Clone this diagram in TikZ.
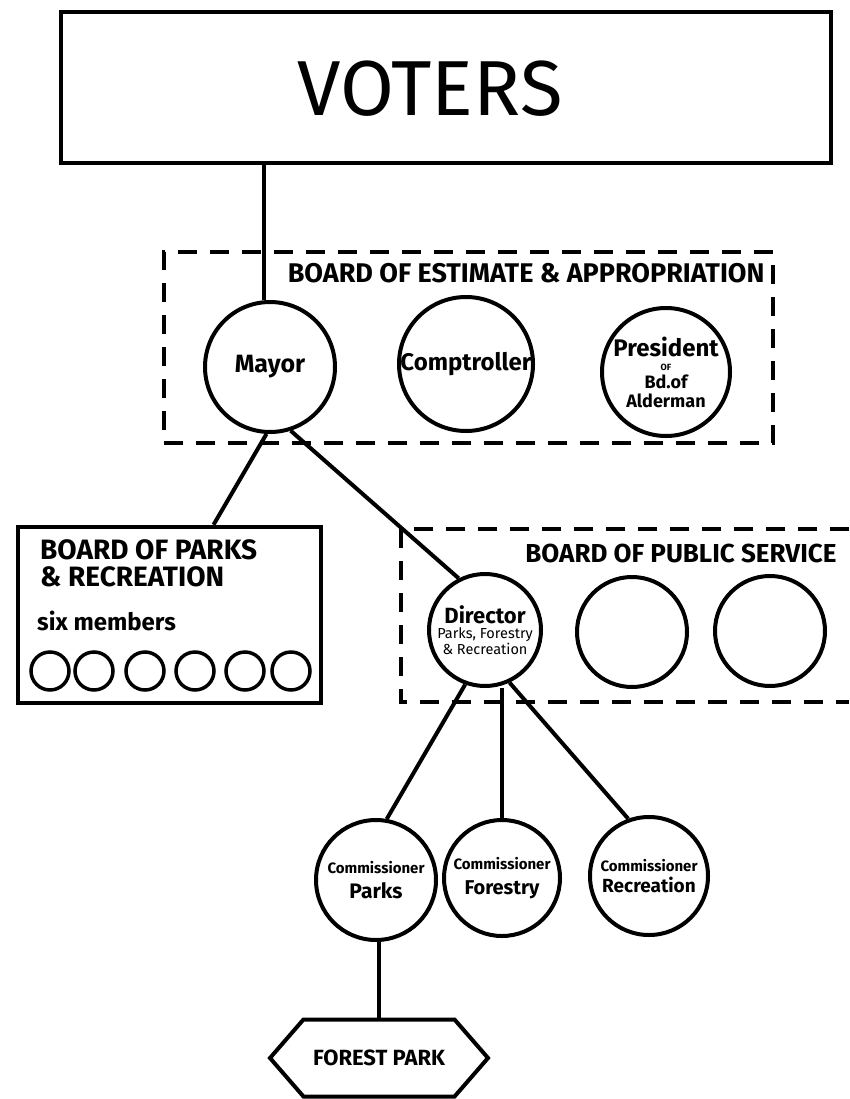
\documentclass[tikz,border=0pt]{standalone}
\usepackage{fontspec}
\setmainfont{Fira Sans}
\usetikzlibrary{shapes.symbols}
\tikzset{
  office/.style={draw,circle,line width=4pt,inner sep=0pt,align=center,font=\bfseries},
  member/.style={draw,circle,line width=3.5pt,minimum size=38pt,inner sep=0pt},
  boardline/.style={line width=4.5pt,dash pattern=on 19pt off 13pt},
  boardbox/.style={draw,line width=4.5pt,inner sep=0pt},
  link/.style={line width=4pt},
}
\begin{document}
\begin{tikzpicture}[x=1pt,y=-1pt]
\useasboundingbox[fill=white] (0,0) rectangle (849,1099);
\node[boardbox,minimum width=770pt,minimum height=151pt] (voters) at (446,87.5) {};
\node[font=\fontsize{78}{78}\selectfont] (voterstext) at (430,89) {VOTERS};
\node[draw,boardline,minimum width=609pt,minimum height=191pt] (bea) at (468.5,347.5) {};
\node[anchor=east,font=\bfseries\fontsize{27}{27}\selectfont] (bealabel) at (768,273) {BOARD OF ESTIMATE \& APPROPRIATION};
\node[office,minimum size=130pt,font=\bfseries\fontsize{25}{25}\selectfont] (mayor) at (270,367) {Mayor};
\node[office,minimum size=134pt,font=\bfseries\fontsize{24}{24}\selectfont] (comptroller) at (466,364) {Comptroller};
\node[office,minimum size=128pt,font=\bfseries\fontsize{18}{17}\selectfont] (president) at (666,372) {{\fontsize{24}{24}\selectfont President}\\[-3pt]
  {\fontsize{9}{9}\selectfont OF}\\[1pt]{Bd.of}\\[2pt]{Alderman}};
\draw[link] (mayor.95 |- voters.south) -- (mayor.95);
\node[boardbox,minimum width=303pt,minimum height=176pt] (bpr) at (169.5,615) {};
\node[anchor=north west,inner sep=0pt,align=left,font=\bfseries\fontsize{28}{27}\selectfont] (bprlabel) at (40,539) {BOARD OF PARKS\\\& RECREATION};
\node[anchor=base west,inner sep=0pt,font=\bfseries\fontsize{24}{24}\selectfont] (six) at (37,630) {six members};
\foreach \x [count=\i] in {50,94,145,195,245,291}
  \node[member] (m\i) at (\x,671) {};
\draw[boardline] (849,529) -- (401,529) -- (401,702) -- (849,702);
\node[anchor=east,font=\bfseries\fontsize{26}{26}\selectfont] (bpslabel) at (840,553) {BOARD OF PUBLIC SERVICE};
\node[office,minimum size=112pt,font=\bfseries\fontsize{14.5}{15.5}\selectfont] (director) at (485,630) {{\fontsize{22}{22}\selectfont Director}\\
  {\mdseries Parks, Forestry}\\{\mdseries \& Recreation}};
\node[office,minimum size=110pt] (bps2) at (632,632) {};
\node[office,minimum size=110pt] (bps3) at (770,631) {};
\draw[link] (mayor.267) -- (bpr.64);
\draw[link] (mayor.288) -- (director.117);
\node[office,minimum size=120pt,font=\bfseries\fontsize{15}{25}\selectfont] (cparks) at (376,880) {Commissioner\\{\fontsize{21}{21}\selectfont Parks}};
\node[office,minimum size=116pt,font=\bfseries\fontsize{15}{25}\selectfont] (cforestry) at (502,878) {Commissioner\\{\fontsize{20}{20}\selectfont Forestry}};
\node[office,minimum size=118pt,font=\bfseries\fontsize{15}{21}\selectfont] (crecreation) at (649,876) {Commissioner\\{\fontsize{19}{19}\selectfont Recreation}};
\draw[link] (director.250) -- (cparks.80);
\draw[link] (director.south -| cforestry.north) -- (cforestry.north);
\draw[link] (director.295) -- (crecreation.110);
\node[draw,line width=4pt,shape=signal,signal to=west and east,signal pointer angle=98,minimum width=218pt,minimum height=77pt,inner sep=2pt,font=\bfseries\fontsize{22}{22}\selectfont] (forest) at (379,1058) {FOREST PARK};
\draw[link] (cparks.south -| forest.north) -- (forest.north);
\end{tikzpicture}
\end{document}
